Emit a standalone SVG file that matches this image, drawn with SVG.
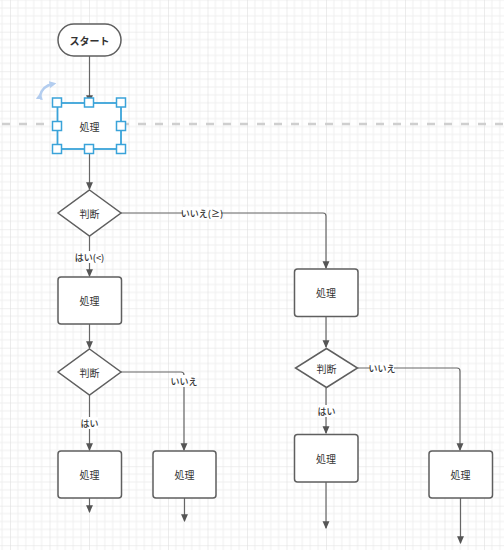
<svg xmlns="http://www.w3.org/2000/svg" width="504" height="550" viewBox="0 0 504 550">
<style>
.node{fill:#fff;stroke:#5f5f5f;stroke-width:1.5}
.t{font-family:"Noto Sans CJK JP","Noto Sans",sans-serif;font-size:10px;fill:#333;text-anchor:middle;dominant-baseline:central}
.lbl{font-family:"Noto Sans CJK JP","Noto Sans",sans-serif;font-size:9px;font-weight:500;fill:#333;text-anchor:middle;dominant-baseline:central}
.edge{fill:none;stroke:#666;stroke-width:1.2}
.lb{fill:#fff}
.h{fill:#fff;stroke:#3aa3d9;stroke-width:1.5}
</style>
<defs>
<pattern id="grid" patternUnits="userSpaceOnUse" x="10" y="31.7" width="39.5" height="39.5">
<path d="M7.9 0V39.5M15.8 0V39.5M23.7 0V39.5M31.6 0V39.5M0 7.9H39.5M0 15.8H39.5M0 23.7H39.5M0 31.6H39.5" stroke="#efefef" stroke-width="1" fill="none"/>
<path d="M0 0V39.5M0 0H39.5" stroke="#e0e0e0" stroke-width="1.2" fill="none"/>
</pattern>
<marker id="arr" markerWidth="8" markerHeight="8" refX="6" refY="3" orient="auto" markerUnits="userSpaceOnUse" viewBox="0 0 7 6">
<path d="M0 0L7 3L0 6Z" fill="#555"/>
</marker>
<marker id="rarr" markerWidth="7" markerHeight="7" refX="3" refY="3" orient="auto" markerUnits="userSpaceOnUse" viewBox="0 0 6 6">
<path d="M0 0L6 3L0 6Z" fill="#b3cdef"/>
</marker>
</defs>
<rect width="504" height="550" fill="#fff"/>
<rect width="504" height="550" fill="url(#grid)"/>
<line x1="2" y1="124" x2="504" y2="124" stroke="#cfcfcf" stroke-width="2.5" stroke-dasharray="8 9"/>

<g id="connectors">
<path class="edge" d="M89.5 56V102" marker-end="url(#arr)"/>
<path class="edge" d="M89.5 149V189" marker-end="url(#arr)"/>
<path class="edge" d="M89.5 236V276" marker-end="url(#arr)"/>
<path class="edge" d="M121 213H323Q326 213 326 216V268" marker-end="url(#arr)"/>
<path class="edge" d="M89.5 324V348" marker-end="url(#arr)"/>
<path class="edge" d="M121 372H181Q184 372 184 375V450" marker-end="url(#arr)"/>
<path class="edge" d="M89.5 395V450" marker-end="url(#arr)"/>
<path class="edge" d="M89.5 498V512" marker-end="url(#arr)"/>
<path class="edge" d="M184.5 498V521" marker-end="url(#arr)"/>
<path class="edge" d="M326 317V347" marker-end="url(#arr)"/>
<path class="edge" d="M357.5 368H457Q460 368 460 371V450" marker-end="url(#arr)"/>
<path class="edge" d="M326 388V433" marker-end="url(#arr)"/>
<path class="edge" d="M326 482V528" marker-end="url(#arr)"/>
<path class="edge" d="M460.5 498V543" marker-end="url(#arr)"/>
<rect class="lb" x="76" y="251" width="28" height="12"/>
<text class="lbl" x="89.5" y="257">はい(&lt;)</text>
<rect class="lb" x="183" y="207" width="38" height="12"/>
<text class="lbl" x="202" y="213">いいえ(≥)</text>
<rect class="lb" x="172" y="375" width="24" height="12"/>
<text class="lbl" x="184" y="381">いいえ</text>
<rect class="lb" x="81" y="417" width="17" height="12"/>
<text class="lbl" x="89.5" y="423">はい</text>
<rect class="lb" x="370" y="362" width="24" height="12"/>
<text class="lbl" x="382" y="368">いいえ</text>
<rect class="lb" x="318" y="405" width="17" height="12"/>
<text class="lbl" x="326.5" y="411">はい</text>
</g>

<g id="start">
<rect class="node" x="58" y="24" width="63" height="32" rx="16"/>
<text class="t" x="89.5" y="40" font-weight="bold">スタート</text>
</g>
<g id="process1">
<rect x="57.5" y="103" width="63.5" height="46" fill="#fff" stroke="#3aa3d9" stroke-width="1.8"/>
<text class="t" x="89.5" y="126">処理</text>
<rect class="h" x="52.5" y="98" width="9" height="9"/>
<rect class="h" x="84.5" y="98" width="9" height="9"/>
<rect class="h" x="116.5" y="98" width="9" height="9"/>
<rect class="h" x="52.5" y="121.5" width="9" height="9"/>
<rect class="h" x="116.5" y="121.5" width="9" height="9"/>
<rect class="h" x="52.5" y="144.5" width="9" height="9"/>
<rect class="h" x="84.5" y="144.5" width="9" height="9"/>
<rect class="h" x="116.5" y="144.5" width="9" height="9"/>
<path d="M40 96Q42 86 53 84" fill="none" stroke="#b3cdef" stroke-width="2.4" marker-start="url(#rarr)" marker-end="url(#rarr)"/>
</g>
<g id="decision1">
<path class="node" d="M89.5 190L121 213L89.5 236L58 213Z"/>
<text class="t" x="89.5" y="213">判断</text>
</g>
<g id="process2">
<rect class="node" x="58" y="277" width="63.5" height="47" rx="3"/>
<text class="t" x="89.5" y="300.5">処理</text>
</g>
<g id="decision2">
<path class="node" d="M89.5 349L121 372L89.5 395L58 372Z"/>
<text class="t" x="89.5" y="372">判断</text>
</g>
<g id="process3">
<rect class="node" x="58" y="451" width="63.5" height="47" rx="3"/>
<text class="t" x="89.5" y="474.5">処理</text>
</g>
<g id="process4">
<rect class="node" x="153" y="451" width="63" height="47" rx="3"/>
<text class="t" x="184.5" y="474.5">処理</text>
</g>
<g id="processR1">
<rect class="node" x="294.5" y="269" width="63.5" height="47.5" rx="3"/>
<text class="t" x="326" y="292.5">処理</text>
</g>
<g id="decisionR">
<path class="node" d="M326.5 348.5L357.5 368L326.5 387.5L295.5 368Z"/>
<text class="t" x="326.5" y="368">判断</text>
</g>
<g id="processR2">
<rect class="node" x="294.5" y="434.5" width="63.5" height="47.5" rx="3"/>
<text class="t" x="326" y="458">処理</text>
</g>
<g id="processR3">
<rect class="node" x="429" y="451" width="63.5" height="47" rx="3"/>
<text class="t" x="460.5" y="474.5">処理</text>
</g>
</svg>
